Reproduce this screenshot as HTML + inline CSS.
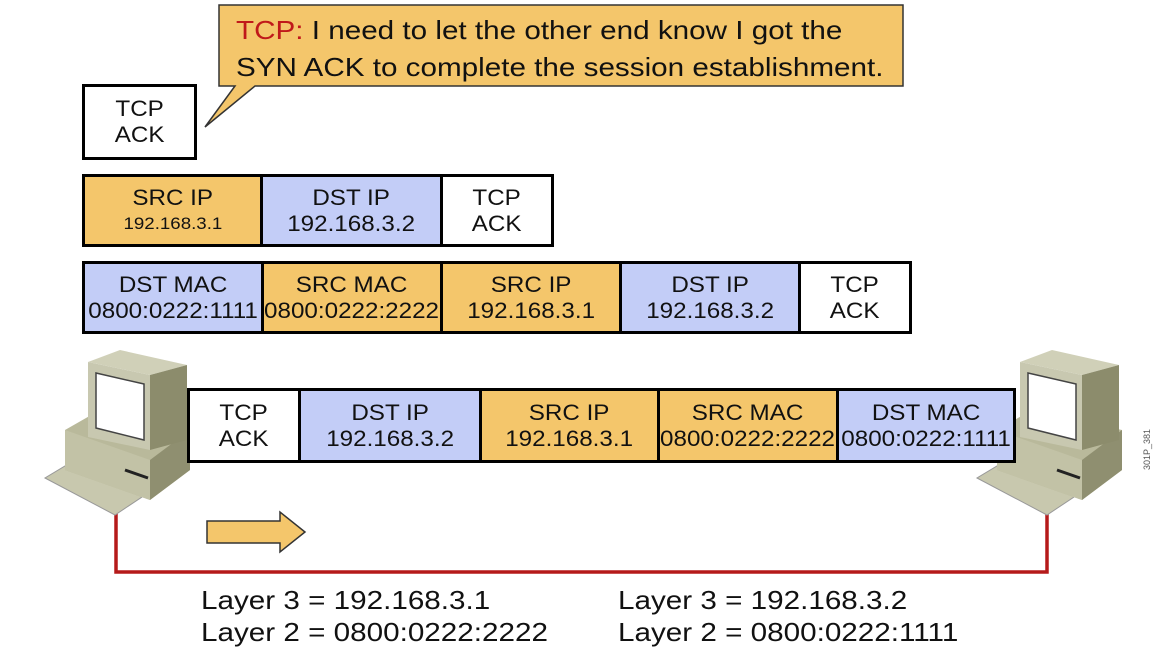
<!DOCTYPE html>
<html><head><style>
body{margin:0;width:1171px;height:653px;background:#fff;position:relative;overflow:hidden;font-family:"Liberation Sans",sans-serif}
.c{position:absolute;box-sizing:border-box;border:3px solid #000;display:flex;flex-direction:column;align-items:center;justify-content:center;text-align:center;font-size:22px;line-height:26px;color:#111}
.c span{display:inline-block;transform:scaleX(1.1);white-space:nowrap}
.o{background:#f4c66b}.b{background:#c3cdf7}.w{background:#fff}
.c span.s{font-size:17px}
.t{position:absolute;font-size:26px;color:#111;white-space:nowrap;transform:scaleX(1.14);transform-origin:0 0}
</style></head><body>
<svg width="1171" height="653" style="position:absolute;left:0;top:0">
<polygon points="219,5 903,5 903,86 255,86 205,127 235,86 219,86" fill="#f4c66b" stroke="#333" stroke-width="1.5"/>
<polyline points="116,512 116,572 1047,572 1047,508" fill="none" stroke="#b51a1a" stroke-width="3.5"/>
<polygon points="207,521 280,521 280,512 305,532 280,552 280,543 207,543" fill="#f4c66b" stroke="#333" stroke-width="1.5"/>
<g id="pc">
<polygon points="45,478 115,515 145,495 75,460" fill="#c8c8ae" stroke="#999"/>
<polygon points="65,430 65,470 150,500 190,470 190,430 100,410" fill="#b9b99b"/>
<polygon points="65,430 150,460 150,500 65,470" fill="#c2c2a6"/>
<polygon points="150,460 190,430 190,470 150,500" fill="#8f8f70"/>
<polygon points="88,362 150,375 150,450 88,437" fill="#c8c8b0"/>
<polygon points="88,362 120,350 187,365 150,375" fill="#d0d0b8"/>
<polygon points="150,375 187,365 187,440 150,450" fill="#8c8c6c"/>
<polygon points="96,373 144,384 144,440 96,428" fill="#fff" stroke="#444" stroke-width="1.5"/>
<line x1="125" y1="470" x2="148" y2="478" stroke="#222" stroke-width="3"/>
</g>
<use href="#pc" transform="translate(932,0)"/>
<text x="1150" y="470" font-size="9" fill="#555" transform="rotate(-90 1150 470)" font-family="Liberation Sans">301P_381</text>
</svg>
<div class="t" style="left:236px;top:12px;line-height:37px"><span style="color:#c0191a">TCP:</span> I need to let the other end know I got the<br>SYN ACK to complete the session establishment.</div>
<div class="c w" style="left:82px;top:84px;width:115px;height:76px"><span>TCP<br>ACK</span></div>

<div class="c o" style="left:82px;top:174px;width:181px;height:73px"><span>SRC IP</span><span class="s">192.168.3.1</span></div>
<div class="c b" style="left:260px;top:174px;width:183px;height:73px"><span>DST IP<br>192.168.3.2</span></div>
<div class="c w" style="left:440px;top:174px;width:114px;height:73px"><span>TCP<br>ACK</span></div>

<div class="c b" style="left:82px;top:261px;width:182px;height:73px"><span>DST MAC<br>0800:0222:1111</span></div>
<div class="c o" style="left:261px;top:261px;width:182px;height:73px"><span>SRC MAC<br>0800:0222:2222</span></div>
<div class="c o" style="left:440px;top:261px;width:182px;height:73px"><span>SRC IP<br>192.168.3.1</span></div>
<div class="c b" style="left:619px;top:261px;width:182px;height:73px"><span>DST IP<br>192.168.3.2</span></div>
<div class="c w" style="left:798px;top:261px;width:114px;height:73px"><span>TCP<br>ACK</span></div>

<div class="c w" style="left:187px;top:388px;width:114px;height:75px"><span>TCP<br>ACK</span></div>
<div class="c b" style="left:298px;top:388px;width:184px;height:75px"><span>DST IP<br>192.168.3.2</span></div>
<div class="c o" style="left:479px;top:388px;width:181px;height:75px"><span>SRC IP<br>192.168.3.1</span></div>
<div class="c o" style="left:657px;top:388px;width:182px;height:75px"><span>SRC MAC<br>0800:0222:2222</span></div>
<div class="c b" style="left:836px;top:388px;width:180px;height:75px"><span>DST MAC<br>0800:0222:1111</span></div>

<div class="t" style="left:201px;top:584px;line-height:32px">Layer 3 = 192.168.3.1<br>Layer 2 = 0800:0222:2222</div>
<div class="t" style="left:618px;top:584px;line-height:32px">Layer 3 = 192.168.3.2<br>Layer 2 = 0800:0222:1111</div>
</body></html>
